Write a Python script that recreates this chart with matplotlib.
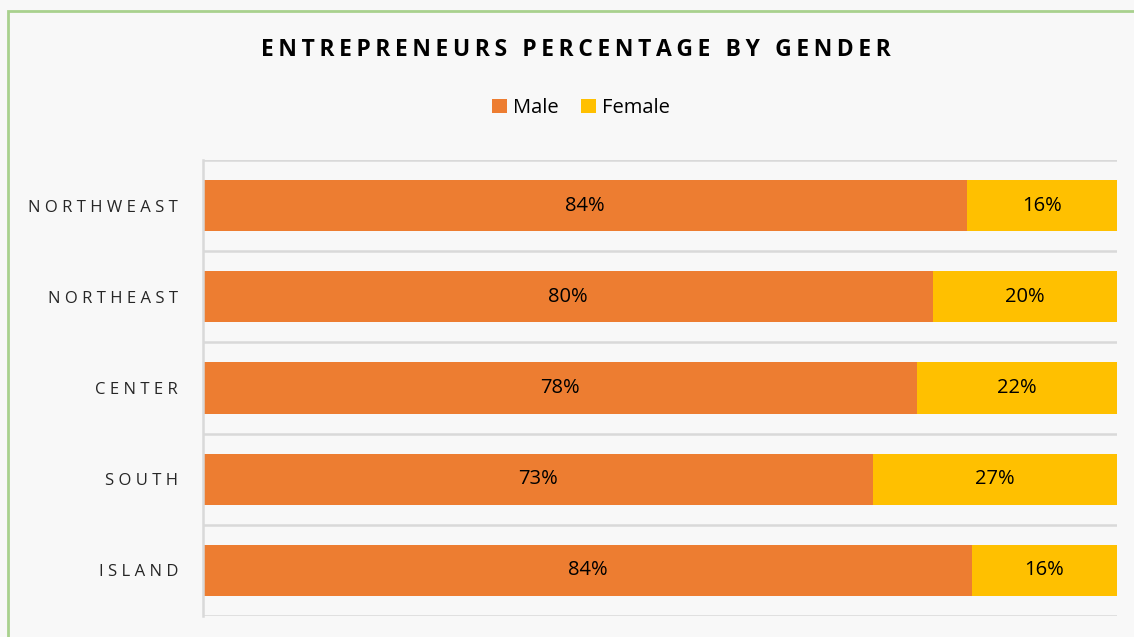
import matplotlib.pyplot as plt
from matplotlib.patches import Rectangle

regions = ['NORTHWEAST', 'NORTHEAST', 'CENTER', 'SOUTH', 'ISLAND']
male = [83.6, 79.9, 78.1, 73.3, 84.1]
female = [16.4, 20.1, 21.9, 26.7, 15.9]

MALE_COLOR = '#ed7d31'
FEMALE_COLOR = '#ffc000'
BG = '#f8f8f8'

plt.rcParams['font.family'] = ['Open Sans', 'DejaVu Sans']


def spaced(text, sep='\u2009'):
    # emulate the letter spacing of the original
    return sep.join(text)


fig = plt.figure(figsize=(11.34, 6.37), dpi=100)
fig.patch.set_facecolor(BG)

# green outline of the chart area (top and left edges visible)
fig.patches.append(Rectangle((8 / 1134, -0.1), 1.2, 1 - 11 / 637 + 0.1,
                             transform=fig.transFigure, fill=False,
                             edgecolor='#a9d18e', linewidth=2))

ax = fig.add_axes([203 / 1134, 21 / 637, 914 / 1134, 456 / 637])
ax.set_facecolor(BG)

pos = range(len(regions))
ax.barh(pos, male, height=0.56, color=MALE_COLOR, label='Male')
ax.barh(pos, female, left=male, height=0.56, color=FEMALE_COLOR, label='Female')

for i in pos:
    ax.text(male[i] / 2, i, f'{round(male[i])}%', ha='center', va='center',
            fontsize=14.5, color='#000000')
    ax.text(male[i] + female[i] / 2, i, f'{round(female[i])}%', ha='center',
            va='center', fontsize=14.5, color='#000000')

ax.set_xlim(0, 100)
ax.set_ylim(len(regions) - 0.5, -0.5)
ax.set_yticks(list(pos))
ax.set_yticklabels([spaced(r, ' ') for r in regions], fontsize=12, color='#262626')
ax.tick_params(axis='y', length=0, pad=18)
ax.set_xticks([])
ax.set_yticks([p - 0.5 for p in range(len(regions) + 1)], minor=True)
ax.tick_params(axis='y', which='minor', length=0)
ax.grid(True, which='minor', axis='y', color='#d9d9d9', linewidth=1.8)
ax.set_axisbelow(True)
for side in ['top', 'right', 'bottom']:
    ax.spines[side].set_visible(False)
ax.spines['left'].set_color('#d9d9d9')
ax.spines['left'].set_linewidth(1.8)

fig.text(576 / 1134, 1 - 50 / 637, spaced('ENTREPRENEURS PERCENTAGE BY GENDER'),
         ha='center', va='center', fontsize=16.5, fontweight='bold', color='#000000')

ax.legend(loc='center', bbox_to_anchor=(581 / 1134, 1 - 108 / 637), bbox_transform=fig.transFigure,
          ncol=2, frameon=False, fontsize=14.5, handlelength=0.75, handleheight=0.75,
          handletextpad=0.3, columnspacing=1.1)

fig.savefig('out.png', dpi=100, facecolor=BG)
